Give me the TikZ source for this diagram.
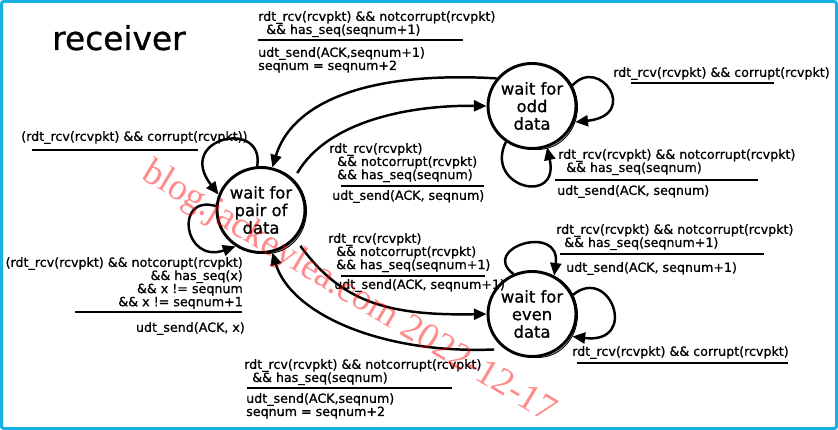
\documentclass[tikz,border=0pt]{standalone}
\usepackage{fontspec}
\setmainfont[FakeBold=0.9]{DejaVu Sans}
\newfontfamily\wmfont{Liberation Serif}
\usetikzlibrary{arrows.meta}
\usetikzlibrary{shapes.geometric}
\definecolor{framecyan}{RGB}{22,176,230}
\definecolor{shadowgray}{RGB}{178,178,178}
\newcommand{\andind}{\hspace*{2.4mm}\&\&}

\begin{document}
\begin{tikzpicture}[x=0.03cm,y=-0.03cm,
    state/.style={ellipse,draw,line width=2.5pt,fill=white,minimum width=2.37cm,
      minimum height=2.55cm,inner sep=0pt,align=center,font=\fontsize{14}{15}\selectfont},
    stateshadow/.style={ellipse,draw,line width=0.7pt,fill=shadowgray,minimum width=2.37cm,
      minimum height=2.55cm,inner sep=0pt},
    trans/.style={line width=2.1pt,-{Triangle[length=3.8mm,width=3.3mm]}},
    cond/.style={inner sep=0pt,anchor=north west,align=left,font=\fontsize{10.8}{11.2}\selectfont},
    condr/.style={cond,anchor=north east,align=right},
    bar/.style={line width=1.9pt}]%
    \useasboundingbox (0,0) rectangle (838,430);
    \draw[framecyan,line width=0.09cm,rounded corners=2pt] (1.5,1.5) rectangle (836.5,428.5);

    \node[anchor=base west,inner sep=0pt,font=\fontsize{28}{30}\selectfont] (title) at (52,50) {receiver};

    % states
    \node[stateshadow] (pairsh) at (267,211) {};
    \node[stateshadow] (oddsh) at (538,107) {};
    \node[stateshadow] (evensh) at (538,315) {};
    \node[state] (pair) at (261,210) {wait for\\pair of\\data};
    \node[state] (odd) at (532,106) {wait for\\odd\\data};
    \node[state] (even) at (532,314) {wait for\\even\\data};

    % transitions
    \draw[trans] (odd.142) .. controls +(-140,-8) and +(18,-60) .. (pair.75);
    \draw[trans,shorten <=6pt] (pairsh.50) .. controls +(35,-60) and +(-72,-1) .. (odd.180);
    \draw[trans,shorten <=6pt] (pairsh.-45) .. controls +(44,60) and +(-102,2) .. (even.180);
    \draw[trans,shorten <=9pt] (even.232) .. controls +(-126,5) and +(18,60) .. (pair.285);
    \draw[trans] (pair.95) .. controls +(8,-48) and +(-44,-57) .. (pair.160);
    \draw[trans] (pair.175) .. controls +(-42,-12) and +(-52,18) .. (pair.235);
    \draw[trans] (oddsh.32) .. controls +(27,-30) and +(65,-7) .. (oddsh.-22);
    \draw[trans] (odd.234) .. controls +(-22,45) and +(13,59) .. (odd.290);
    \draw[trans] (even.115) .. controls +(-34,-26) and +(7,-53) .. (even.60);
    \draw[trans] (evensh.30) .. controls +(37,-30) and +(67,8) .. (evensh.-32);

    % labels
    \node[cond] (condA) at (258,11) {rdt\_rcv(rcvpkt) \&\& notcorrupt(rcvpkt)\\\andind{} has\_seq(seqnum+1)};
    \draw[bar] (258,40) -- (463,40);
    \node[cond] (actA) at (258,47) {udt\_send(ACK,seqnum+1)\\seqnum = seqnum+2};

    \node[cond] (condB) at (329,143) {rdt\_rcv(rcvpkt)\\\andind{} notcorrupt(rcvpkt)\\\andind{} has\_seq(seqnum)};
    \draw[bar] (341,186) -- (484,186);
    \node[cond] (actB) at (332,190) {udt\_send(ACK, seqnum)};

    \node[cond] (condC) at (328,233) {rdt\_rcv(rcvpkt)\\\andind{} notcorrupt(rcvpkt)\\\andind{} has\_seq(seqnum+1)};
    \draw[bar] (341,276) -- (485,276);
    \node[cond] (actC) at (334,279) {udt\_send(ACK, seqnum+1)};

    \node[cond] (condD) at (244,359) {rdt\_rcv(rcvpkt) \&\& notcorrupt(rcvpkt)\\\andind{} has\_seq(seqnum)};
    \draw[bar] (247,388) -- (452,388);
    \node[cond] (actD) at (246,393) {udt\_send(ACK,seqnum)\\seqnum = seqnum+2};

    \node[cond] (condE) at (21,131) {(rdt\_rcv(rcvpkt) \&\& corrupt(rcvpkt))};
    \draw[bar] (32,150) -- (198,150);

    \node[condr] (condF) at (243,257) {(rdt\_rcv(rcvpkt) \&\& notcorupt(rcvpkt)\\\&\& has\_seq(x)\\\&\& x != seqnum\\\&\& x != seqnum+1};
    \draw[bar] (75,312) -- (242,312);
    \node[condr] (actF) at (245,322) {udt\_send(ACK, x)};

    \node[cond] (condG) at (613,67) {rdt\_rcv(rcvpkt) \&\& corrupt(rcvpkt)};
    \draw[bar] (631,83) -- (774,83);

    \node[cond] (condH) at (558,149) {rdt\_rcv(rcvpkt) \&\& notcorrupt(rcvpkt)\\\andind{} has\_seq(seqnum)};
    \draw[bar] (555,180) -- (758,180);
    \node[cond] (actH) at (557,185) {udt\_send(ACK, seqnum)};

    \node[cond] (condI) at (556,224) {rdt\_rcv(rcvpkt) \&\& notcorrupt(rcvpkt)\\\andind{} has\_seq(seqnum+1)};
    \draw[bar] (560,254) -- (764,254);
    \node[cond] (actI) at (566,262) {udt\_send(ACK, seqnum+1)};

    \node[cond] (condJ) at (572,346) {rdt\_rcv(rcvpkt) \&\& corrupt(rcvpkt)};
    \draw[bar] (577,363) -- (788,363);

    \node[rotate=-31,anchor=base west,inner sep=0pt,text=red,opacity=0.45,
      font=\wmfont\fontsize{32}{32}\selectfont] (mark) at (140,178) {blog.jackeylea.com 2022-12-17};
\end{tikzpicture}
\end{document}
